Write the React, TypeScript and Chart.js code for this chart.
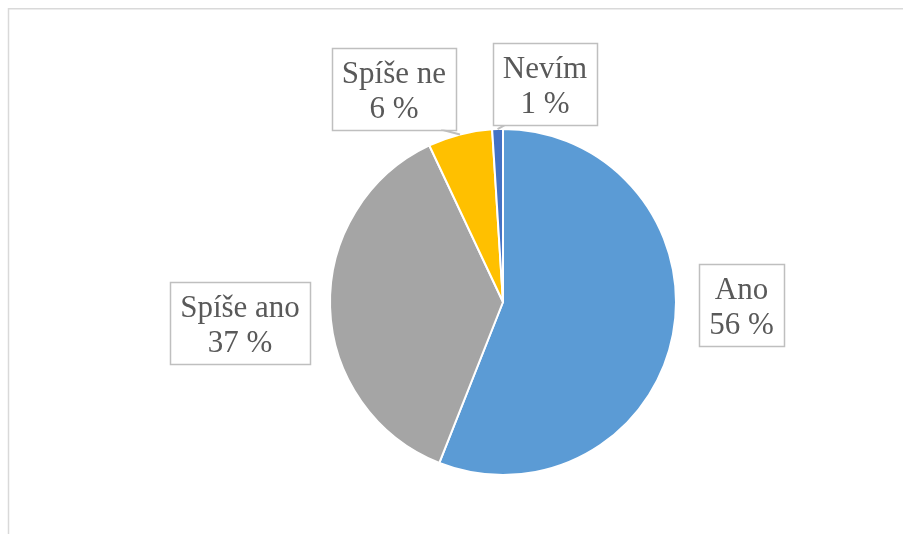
import React, { useEffect, useRef } from "react";
import { Chart, registerables } from "chart.js";

Chart.register(...registerables);

const categories = ["Ano", "Spíše ano", "Spíše ne", "Nevím"];
const values = [56, 37, 6, 1];
const valueLabels = ["56 %", "37 %", "6 %", "1 %"];
const colors = ["#5B9BD5", "#A5A5A5", "#FFC000", "#4472C4"];

// label box centre offsets (in units of the pie radius) from the pie centre
const labelOffsets = [
  [1.387, 0.017],
  [-1.529, 0.122],
  [-0.634, -1.241],
  [0.244, -1.267],
];
const showLeader = [false, false, true, true];

const FONT = "31px 'Liberation Serif', 'Times New Roman', serif";

const labelPlugin = {
  id: "boxLabels",
  afterDraw(chart: any) {
    const ctx = chart.ctx;
    const meta = chart.getDatasetMeta(0);
    ctx.save();
    // outer frame
    ctx.strokeStyle = "#d9d9d9";
    ctx.lineWidth = 1.5;
    ctx.beginPath();
    ctx.moveTo(8.5, chart.height + 5);
    ctx.lineTo(8.5, 8.75);
    ctx.lineTo(chart.width + 5, 8.75);
    ctx.stroke();

    ctx.font = FONT;
    meta.data.forEach((arc: any, i: number) => {
      const cx = arc.x;
      const cy = arc.y;
      const r = arc.outerRadius - 1;
      const lx = cx + labelOffsets[i][0] * r;
      const ly = cy + labelOffsets[i][1] * r;
      const l1 = categories[i];
      const l2 = valueLabels[i];
      const w = Math.max(ctx.measureText(l1).width, ctx.measureText(l2).width) + 20;
      const h = 82;
      const bx = lx - w / 2;
      const by = ly - h / 2;

      if (showLeader[i]) {
        const mid = (arc.startAngle + arc.endAngle) / 2;
        const px = cx + Math.cos(mid) * (r + 1);
        const py = cy + Math.sin(mid) * (r + 1);
        const ax = Math.min(Math.max(px, bx + 12), bx + w - 15);
        const ay = by + h;
        ctx.strokeStyle = "#bfbfbf";
        ctx.lineWidth = 2;
        ctx.beginPath();
        ctx.moveTo(ax, ay);
        ctx.lineTo(px, py);
        ctx.stroke();
      }

      ctx.fillStyle = "#ffffff";
      ctx.fillRect(bx, by, w, h);
      ctx.strokeStyle = "#bfbfbf";
      ctx.lineWidth = 1.5;
      ctx.strokeRect(Math.round(bx) + 0.5, Math.round(by) + 0.5, Math.round(w), Math.round(h));

      ctx.fillStyle = "#595959";
      ctx.textAlign = "center";
      ctx.textBaseline = "alphabetic";
      ctx.fillText(l1, lx, ly - 6);
      ctx.fillText(l2, lx, ly + 29);
    });
    ctx.restore();
  },
};

export default function App() {
  const ref = useRef<HTMLCanvasElement | null>(null);

  useEffect(() => {
    if (!ref.current) return;
    const chart = new Chart(ref.current, {
      type: "pie",
      data: {
        labels: categories,
        datasets: [
          {
            data: values,
            backgroundColor: colors,
            borderColor: "#ffffff",
            borderWidth: 2,
          },
        ],
      },
      options: {
        responsive: false,
        animation: false,
        layout: { padding: { left: 329, right: 226, top: 128, bottom: 58 } },
        plugins: {
          legend: { display: false },
          tooltip: { enabled: false },
        },
      },
      plugins: [labelPlugin],
    });
    return () => chart.destroy();
  }, []);

  return (
    <div
      style={{
        position: "fixed",
        left: 0,
        top: 0,
        width: 903,
        height: 534,
        overflow: "hidden",
        background: "#ffffff",
      }}
    >
      <canvas ref={ref} width={903} height={534} style={{ display: "block" }} />
    </div>
  );
}
